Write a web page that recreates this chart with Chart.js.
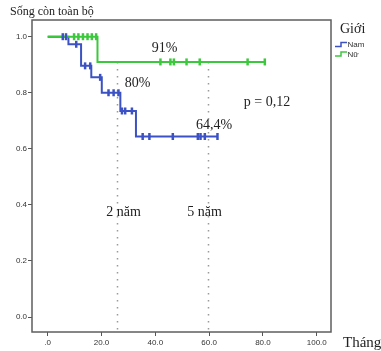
<!DOCTYPE html>
<html>
<head>
<meta charset="utf-8">
<script src="https://cdn.jsdelivr.net/npm/chart.js@4.4.0/dist/chart.umd.min.js"></script>
<style>
  html, body { margin: 0; padding: 0; background: #fff; }
</style>
</head>
<body>
<canvas id="kmChart" width="381" height="351"></canvas>
<script>
// Kaplan-Meier overall survival, by sex (Nam / Nữ)
const namTimes = [0, 7.7, 12.4, 16.2, 20.1, 27.0, 32.8, 63.1];
const namSurv = [1.0, 0.973, 0.896, 0.855, 0.80, 0.735, 0.644, 0.644];
const namCensored = [5.6, 6.8, 10.6, 13.9, 15.8, 19.5, 22.6, 24.5, 26.3, 27.6, 28.8, 31.3,
  35.3, 37.8, 46.5, 55.8, 56.8, 58.4, 63.1];

const nuTimes = [0, 18.5, 80.7];
const nuSurv = [1.0, 0.91, 0.91];
const nuCensored = [9.8, 11.4, 13.1, 14.8, 16.4, 18.0, 41.9, 45.6, 46.9, 51.6, 56.5, 74.3, 80.7];

const xTicks = [0, 20, 40, 60, 80, 100];
const yTicks = [0, 0.2, 0.4, 0.6, 0.8, 1.0];
const refMonths = [25.7, 59.6];
const refLabels = ['2 năm', '5 năm'];

const BLUE = '#3c52c4';
const GREEN = '#3cc83c';
const SERIF = '"Liberation Serif", "Times New Roman", serif';
const SANS = '"Liberation Sans", Arial, sans-serif';

// survival level of a step curve at time t
function survAt(times, surv, t) {
    let s = surv[0];
    for (let i = 0; i < times.length; i++) {
        if (times[i] <= t) s = surv[i];
    }
    return s;
}

const stepPoints = (times, surv) => times.map((t, i) => ({ x: t, y: surv[i] }));
const censorPoints = (cens, times, surv) => cens.map(t => ({ x: t, y: survAt(times, surv, t) }));

const decor = {
    id: 'decor',
    beforeDatasetsDraw(chart) {
        const { ctx, chartArea, scales } = chart;
        ctx.save();
        ctx.strokeStyle = '#9a9a9a';
        ctx.lineWidth = 1.5;
        ctx.setLineDash([1.5, 5.5]);
        refMonths.forEach(m => {
            const x = Math.round(scales.x.getPixelForValue(m)) + 0.5;
            ctx.beginPath();
            ctx.moveTo(x, scales.y.getPixelForValue(0.91));
            ctx.lineTo(x, chartArea.bottom);
            ctx.stroke();
        });
        ctx.restore();
    },
    afterDraw(chart) {
        const { ctx, chartArea } = chart;
        ctx.save();
        // plot frame
        ctx.strokeStyle = '#5e5e5e';
        ctx.lineWidth = 1.5;
        ctx.strokeRect(chartArea.left, chartArea.top, chartArea.right - chartArea.left, chartArea.bottom - chartArea.top);

        ctx.fillStyle = '#222';
        ctx.textBaseline = 'middle';
        ctx.textAlign = 'left';
        ctx.font = '12px ' + SERIF;
        ctx.fillText('Sống còn toàn bộ', 10, 12);

        ctx.textAlign = 'center';
        ctx.font = '14px ' + SERIF;
        ctx.fillText('91%', 164.5, 48);
        ctx.fillText('80%', 137.5, 83);
        ctx.fillText('64,4%', 214, 125);
        ctx.fillText('p = 0,12', 267, 102);
        ctx.fillText(refLabels[0], 123.5, 212);
        ctx.fillText(refLabels[1], 204.5, 212);

        ctx.textAlign = 'left';
        ctx.font = '15px ' + SERIF;
        ctx.fillText('Tháng', 343, 343);

        // legend
        ctx.font = '14px ' + SERIF;
        ctx.fillText('Giới', 340, 29);
        const items = [['Nam', BLUE, 44.5], ['Nữ', GREEN, 54]];
        items.forEach(([name, color, y]) => {
            ctx.strokeStyle = color;
            ctx.lineWidth = 1.5;
            ctx.beginPath();
            ctx.moveTo(335, y + 2);
            ctx.lineTo(341, y + 2);
            ctx.lineTo(341, y - 2);
            ctx.lineTo(347, y - 2);
            ctx.stroke();
            ctx.fillStyle = '#333';
            ctx.font = '8px ' + SANS;
            ctx.fillText(name, 347.5, y + 0.5);
        });
        ctx.restore();
    }
};

const censorStyle = color => ({
    type: 'scatter',
    showLine: false,
    pointStyle: 'line',
    rotation: 90,
    pointRadius: 3.5,
    pointBorderWidth: 2.5,
    borderColor: color,
    backgroundColor: color
});

new Chart(document.getElementById('kmChart'), {
    type: 'line',
    data: {
        datasets: [
            { ...censorStyle(BLUE), data: censorPoints(namCensored, namTimes, namSurv), order: 0 },
            { ...censorStyle(GREEN), data: censorPoints(nuCensored, nuTimes, nuSurv), order: 1 },
            {
                label: 'Nữ', data: stepPoints(nuTimes, nuSurv), stepped: true,
                borderColor: GREEN, borderWidth: 2, pointRadius: 0, fill: false, order: 2
            },
            {
                label: 'Nam', data: stepPoints(namTimes, namSurv), stepped: true,
                borderColor: BLUE, borderWidth: 2, pointRadius: 0, fill: false, order: 3
            }
        ]
    },
    options: {
        responsive: false,
        animation: false,
        layout: { padding: { top: 20, right: 50, left: 0, bottom: 0 } },
        plugins: { legend: { display: false }, tooltip: { enabled: false } },
        scales: {
            x: {
                type: 'linear',
                min: -5.84,
                max: 105.3,
                afterBuildTicks: s => { s.ticks = xTicks.map(v => ({ value: v })); },
                afterFit: s => { s.height = 19; },
                ticks: {
                    callback: v => (v === 0 ? '.0' : v.toFixed(1)),
                    font: { family: SANS, size: 8 },
                    color: '#333',
                    padding: 2,
                    maxRotation: 0,
                    autoSkip: false
                },
                grid: { drawOnChartArea: false, tickLength: 4, color: '#555' },
                border: { display: false }
            },
            y: {
                min: -0.0535,
                max: 1.0596,
                afterBuildTicks: s => { s.ticks = yTicks.map(v => ({ value: v })); },
                afterFit: s => { s.width = 32; },
                ticks: {
                    callback: v => v.toFixed(1),
                    font: { family: SANS, size: 8 },
                    color: '#333',
                    padding: 1,
                    autoSkip: false
                },
                grid: { drawOnChartArea: false, tickLength: 4, color: '#555' },
                border: { display: false }
            }
        }
    },
    plugins: [decor]
});
</script>
</body>
</html>
